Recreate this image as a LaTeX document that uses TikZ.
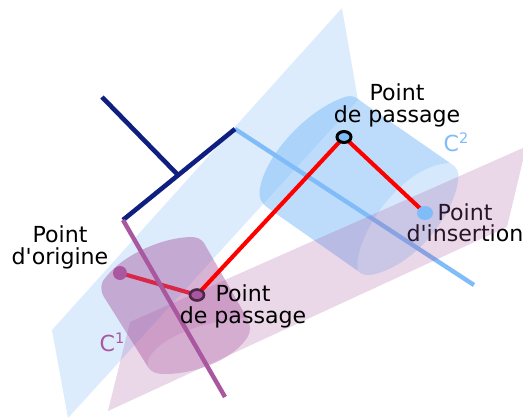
\documentclass[tikz,border=0pt]{standalone}
\usepackage{fontspec}
\newfontfamily\labfont{DejaVu Sans}
\usetikzlibrary{shapes.geometric}
\definecolor{lblue}{HTML}{80BCF8}
\definecolor{purp}{HTML}{A9579F}
\definecolor{navy2}{HTML}{0F1F80}
\definecolor{crim}{HTML}{FF0000}
\tikzset{
  plane/.style={fill=lblue,fill opacity=.28,draw=none},
  pinkplane/.style={fill=purp,fill opacity=.24,draw=none},
  cylblue/.style={fill=lblue,fill opacity=.52,draw=none},
  capblue/.style={fill=white,fill opacity=.38,draw=none},
  cylpurp/.style={fill=purp,fill opacity=.45,draw=none},
  cappurp/.style={fill=white,fill opacity=.16,draw=none},
  axis/.style={line width=4.4pt,line cap=butt},
  traj/.style={line width=4.1pt,color=crim},
  lab/.style={font=\labfont\fontsize{22.1}{21.5}\selectfont,align=center,inner sep=0pt,text=black},
  dotnode/.style={ellipse,inner sep=0pt,minimum width=#1},
}
\newcommand{\supnum}[1]{\raisebox{8pt}{\fontsize{14.5}{14.5}\selectfont #1}}
\begin{document}
\begin{tikzpicture}[x=1pt,y=-1pt]
\useasboundingbox (0,0) rectangle (523,418);
% named points
\coordinate (n1) at (102,97);
\coordinate (n2) at (178,175);
\coordinate (j1) at (123,220);
\coordinate (j2) at (235,129);
\coordinate (e1) at (474,285);
\coordinate (e2) at (225,397);
\coordinate (O) at (120,273);
\coordinate (P1) at (197,295);
\coordinate (P2) at (344,137);
\coordinate (I) at (425,213);
% blue plane
\fill[plane] (342,8) -- (52,330) -- (68,418) -- (358,100) -- cycle;
% blue cylinder
\fill[cylblue] (342,98) .. controls (352,94) and (356,97) .. (362,102) -- (450,163)
  .. controls (458,168) and (459,172) .. (458,180)
  .. controls (455,210) and (420,262) .. (375,274)
  .. controls (368,276) and (362,275) .. (358,271) -- (268,208)
  .. controls (262,204) and (258,198) .. (260,188)
  .. controls (266,155) and (305,112) .. (342,98) -- cycle;
\fill[capblue] (450,163) .. controls (458,168) and (459,172) .. (458,180)
  .. controls (455,210) and (420,262) .. (375,274)
  .. controls (368,276) and (362,275) .. (358,271)
  .. controls (352,240) and (400,165) .. (450,163) -- cycle;
% light blue axis, under the pink plane
\draw[axis,lblue] (j2) -- (e1);
\node[lab] (tI) at (465,223) {Point\\d'insertion};
% pink plane
\fill[pinkplane] (523,148) -- (130,322) -- (108,411) -- (507,227) -- (523,160) -- cycle;
% first red segment under the purple cylinder
\draw[traj] (O) -- (P1);
% purple cylinder
\fill[cylpurp] (190,237) .. controls (198,237) and (201,239) .. (204,243) -- (247,318)
  .. controls (251,325) and (251,332) .. (247,338)
  .. controls (232,360) and (195,374) .. (165,374)
  .. controls (156,374) and (151,372) .. (148,367) -- (104,297)
  .. controls (100,290) and (100,283) .. (106,277)
  .. controls (122,256) and (160,238) .. (190,237) -- cycle;
\fill[cappurp] (247,318) .. controls (251,325) and (251,332) .. (247,338)
  .. controls (232,360) and (195,374) .. (165,374)
  .. controls (156,374) and (151,372) .. (148,367)
  .. controls (143,350) and (185,322) .. (247,318) -- cycle;
% axes
\draw[axis,navy2,line width=4.6pt] (n1) -- (n2);
\draw[axis,navy2,line width=4.6pt] (j1) -- (j2);
\draw[axis,purp] (j1) -- (e2);
% red trajectory
\draw[traj] (P1) -- (P2);
\draw[traj] (P2) -- (I);
% points
\node[dotnode=14pt,minimum height=14pt,fill=purp] (nO) at (O) {};
\node[dotnode=14pt,minimum height=11pt,fill=purp,draw=black!55!purp,line width=2.6pt] (nP1) at (P1) {};
\node[dotnode=14pt,minimum height=11pt,fill=lblue,draw=black,line width=3pt] (nP2) at (P2) {};
\node[dotnode=16pt,minimum height=14pt,fill=lblue] (nI) at (I) {};
% labels
\node[lab] (tO) at (60,247.5) {Point\\d'origine};
\node[lab] (tP1) at (243,306.5) {Point\\de passage};
\node[lab] (tP2) at (397,105.5) {Point\\de passage};
\node[lab,text=purp] (c1) at (112,342) {C\supnum{1}};
\node[lab,text=lblue] (c2) at (456,142) {C\supnum{2}};
\end{tikzpicture}
\end{document}
